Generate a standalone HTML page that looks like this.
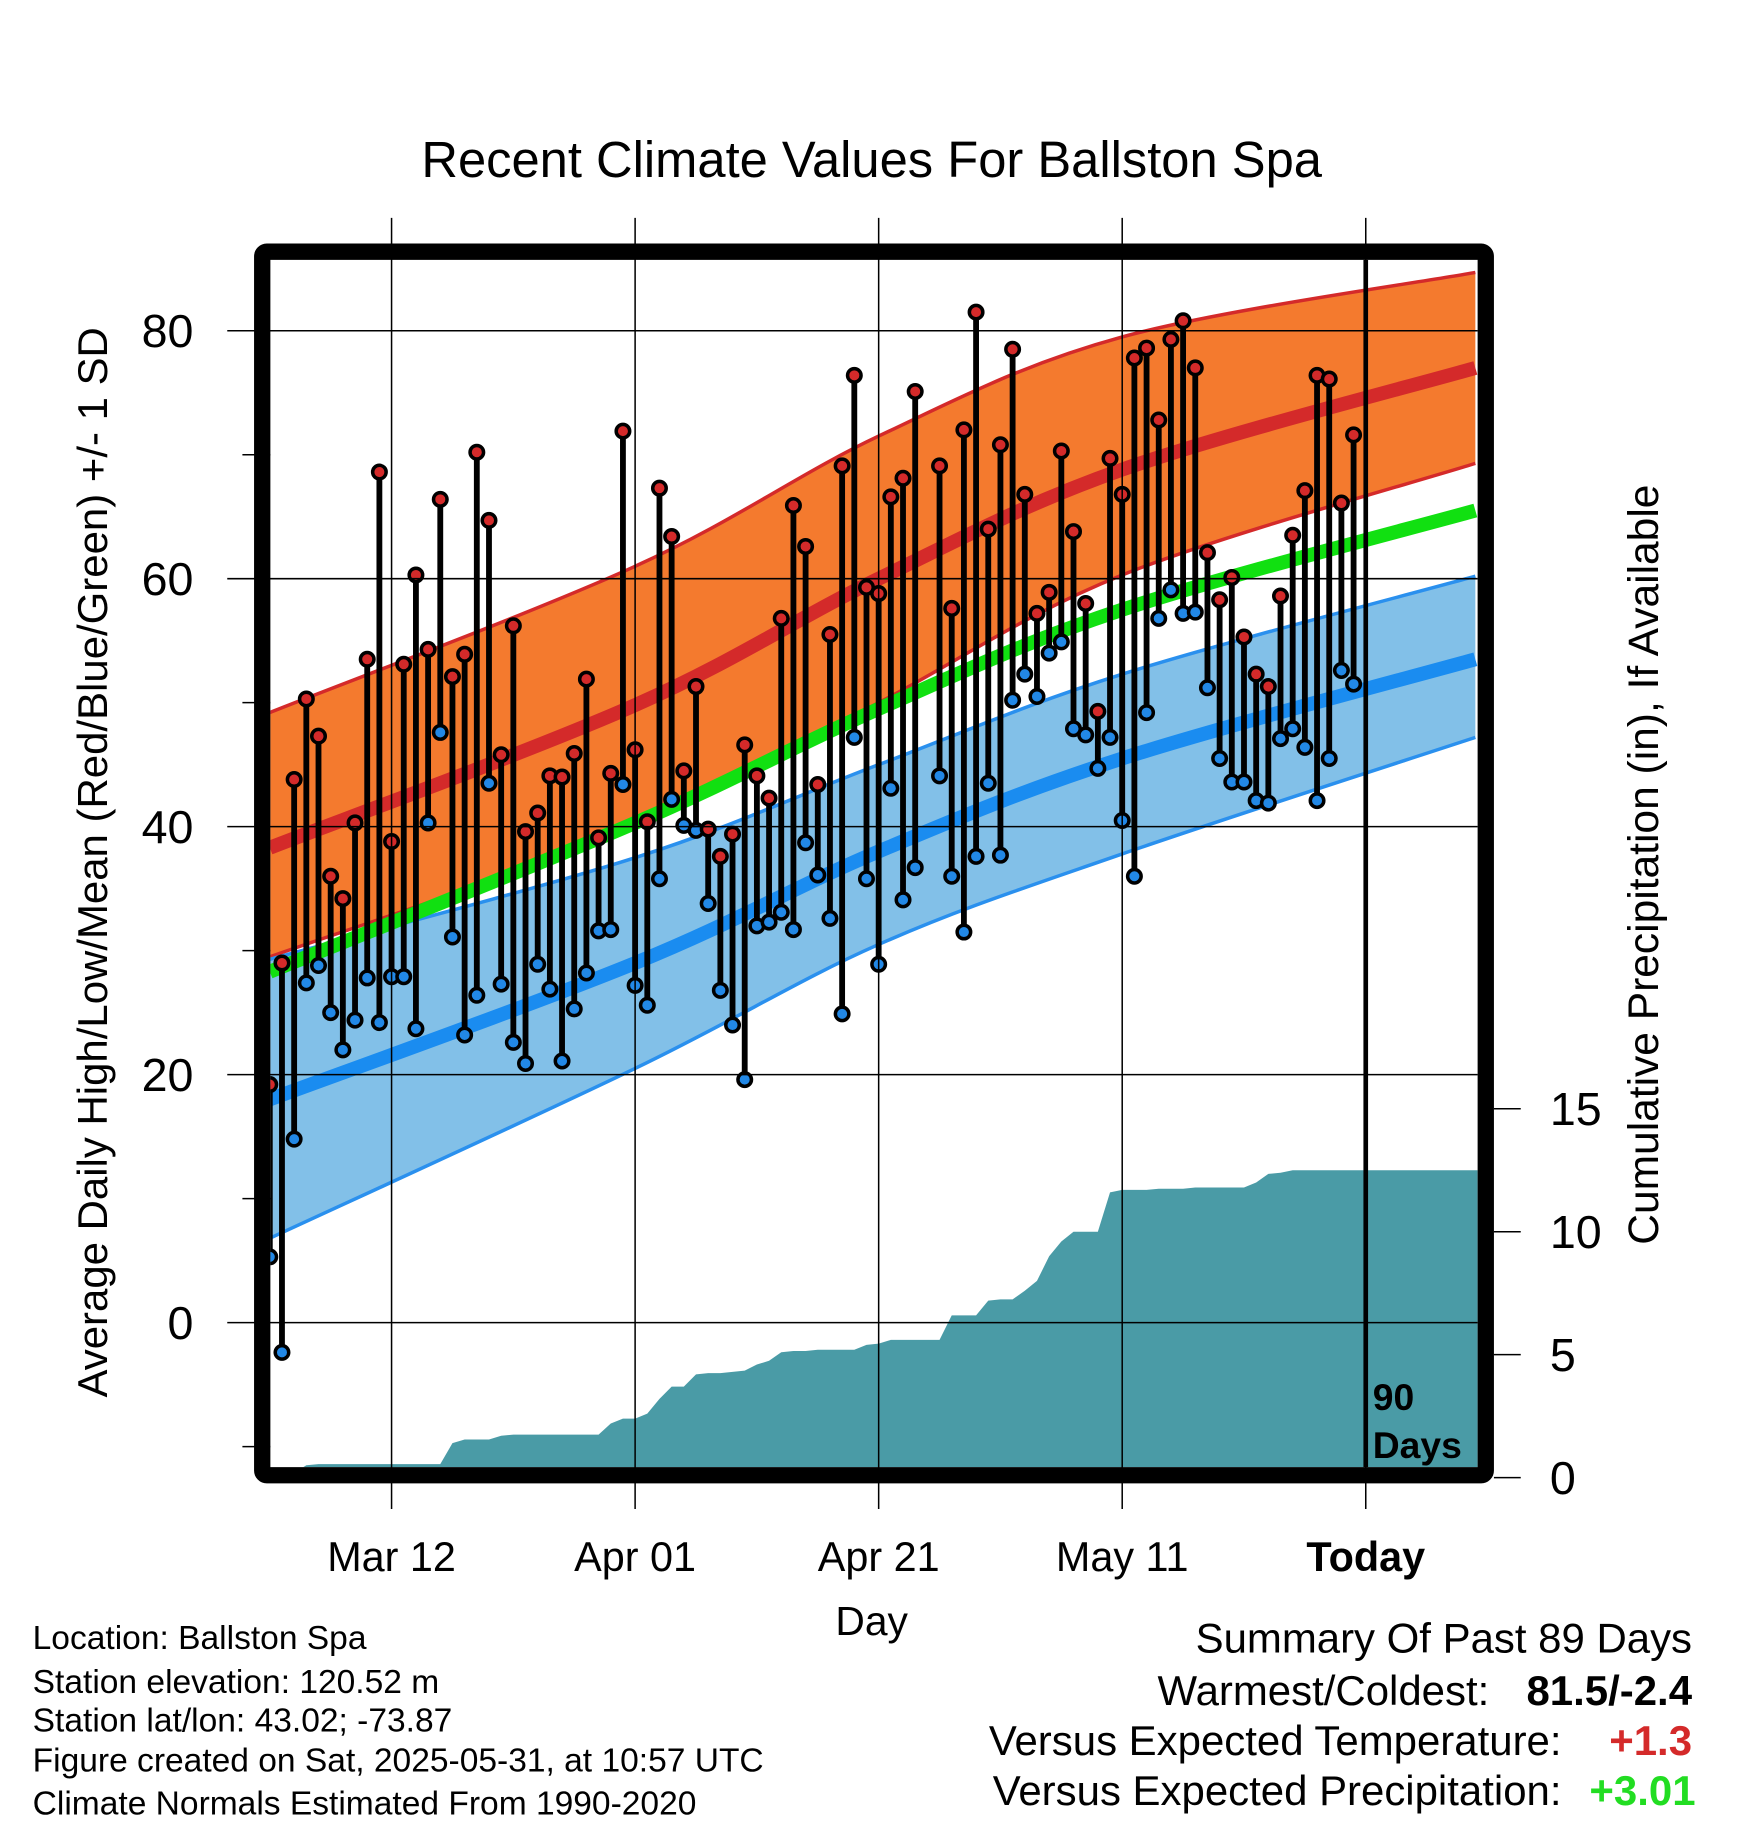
<!DOCTYPE html>
<html><head><meta charset="utf-8">
<style>
html,body{margin:0;padding:0;background:#fff;}
svg{display:block;font-family:"Liberation Sans",Arial,sans-serif;}
</style></head>
<body>
<svg id="chart" width="1748" height="1828" viewBox="0 0 1500 1568.7" xmlns="http://www.w3.org/2000/svg">
<rect width="1500" height="1569" fill="#fff"/>
<g id="plot"></g>
<text x="748" y="152" font-size="43.5" text-anchor="middle">Recent Climate Values For Ballston Spa</text>
<text transform="translate(92,740) rotate(-90)" font-size="36" text-anchor="middle">Average Daily High/Low/Mean (Red/Blue/Green) +/- 1 SD</text>
<text transform="translate(1423,742) rotate(-90)" font-size="36.5" text-anchor="middle">Cumulative Precipitation (in), If Available</text>
<text x="748" y="1403" font-size="35" text-anchor="middle">Day</text>
<g font-size="28.8">
<text x="28" y="1415">Location: Ballston Spa</text>
<text x="28" y="1453">Station elevation: 120.52 m</text>
<text x="28" y="1486">Station lat/lon: 43.02; -73.87</text>
<text x="28" y="1520">Figure created on Sat, 2025-05-31, at 10:57 UTC</text>
<text x="28" y="1557">Climate Normals Estimated From 1990-2020</text>
</g>
<g font-size="36">
<text x="1452" y="1418" text-anchor="end">Summary Of Past 89 Days</text>
<text x="1278" y="1463" text-anchor="end">Warmest/Coldest:</text>
<text x="1452" y="1463" text-anchor="end" font-weight="bold">81.5/-2.4</text>
<text x="1340" y="1506" text-anchor="end">Versus Expected Temperature:</text>
<text x="1452" y="1506" text-anchor="end" font-weight="bold" fill="#d42a2a">+1.3</text>
<text x="1340" y="1549" text-anchor="end">Versus Expected Precipitation:</text>
<text x="1455" y="1549" text-anchor="end" font-weight="bold" fill="#22dd22">+3.01</text>
</g>
</svg>
<script>
const highs=[19.2,29,43.8,50.3,47.3,36,34.2,40.3,53.5,68.6,38.8,53.1,60.3,54.3,66.4,52.1,53.9,70.2,64.7,45.8,56.2,39.6,41.1,44.1,44,45.9,51.9,39.1,44.3,71.9,46.2,40.4,67.3,63.4,44.5,51.3,39.8,37.6,39.4,46.6,44.1,42.3,56.8,65.9,62.6,43.4,55.5,69.1,76.4,59.3,58.8,66.6,68.1,75.1,null,69.1,57.6,72,81.5,64,70.8,78.5,66.8,57.2,58.9,70.3,63.8,58,49.3,69.7,66.8,77.8,78.6,72.8,79.3,80.8,77,62.1,58.3,60.1,55.3,52.3,51.3,58.6,63.5,67.1,76.4,76.1,66.1,71.6];
const lows=[5.3,-2.4,14.8,27.4,28.8,25,22,24.4,27.8,24.2,27.9,27.9,23.7,40.3,47.6,31.1,23.2,26.4,43.5,27.3,22.6,20.9,28.9,26.9,21.1,25.3,28.2,31.6,31.7,43.4,27.2,25.6,35.8,42.2,40.1,39.7,33.8,26.8,24,19.6,32,32.3,33.1,31.7,38.7,36.1,32.6,24.9,47.2,35.8,28.9,43.1,34.1,36.7,null,44.1,36,31.5,37.6,43.5,37.7,50.2,52.3,50.5,54,54.9,47.9,47.4,44.7,47.2,40.5,36,49.2,56.8,59.1,57.2,57.3,51.2,45.5,43.6,43.6,42.1,41.9,47.1,47.9,46.4,42.1,45.5,52.6,51.5];
const precip=[0.2,0.2,0.2,0.5,0.55,0.55,0.55,0.55,0.55,0.55,0.55,0.55,0.55,0.55,0.55,1.4,1.55,1.55,1.55,1.7,1.75,1.75,1.75,1.75,1.75,1.75,1.75,1.75,2.2,2.4,2.4,2.6,3.2,3.7,3.7,4.2,4.25,4.25,4.3,4.35,4.6,4.75,5.1,5.15,5.15,5.2,5.2,5.2,5.2,5.4,5.45,5.6,5.6,5.6,5.6,5.6,6.6,6.6,6.6,7.2,7.25,7.25,7.6,8.0,9.0,9.6,10.0,10.0,10.0,11.6,11.7,11.7,11.7,11.75,11.75,11.75,11.8,11.8,11.8,11.8,11.8,12.0,12.35,12.4,12.5,12.5,12.5,12.5,12.5,12.5];
const normDays=[-90,-60,-40,-20,9];
const hiUpper=[49.2,61,71.5,79.5,84.7];
const hiMean=[38.3,49.8,60,68.8,77];
const hiLower=[29.5,40,50,60.3,69.3];
const avgMean=[28.3,40.3,49.5,57.5,65.5];
const loUpper=[29.3,37.5,45,52.3,60.2];
const loMean=[18,29,38,45.5,53.5];
const loLower=[6.8,20.5,30.5,37.8,47.2];
const yTicks=[80,60,40,20,0];
const yMinor=[70,50,30,10,-10];
const pTicks=[15,10,5,0];
const xTickDays=[-80,-60,-40,-20,0];
const xTickLabels=["Mar 12","Apr 01","Apr 21","May 11","Today"];

const L=232,R=1268,T=223,B=1259;
const X=d=>1172+d*10.45;
const Y=v=>1135-v*10.64;
const P=v=>1268-v*21.1;
const NS="http://www.w3.org/2000/svg";
const g=document.getElementById('plot');
function mk(tag,attrs,parent){const e=document.createElementNS(NS,tag);for(const k in attrs)e.setAttribute(k,attrs[k]);(parent||g).appendChild(e);return e;}
const dayOf=i=>i-90;

const defs=mk('defs',{});
const cp=mk('clipPath',{id:'clip'},defs);mk('rect',{x:L,y:T,width:R-L,height:B-T},cp);
const inner=mk('g',{'clip-path':'url(#clip)'});

function segs(pts){
  let s='';
  for(let i=0;i<pts.length-1;i++){
    const p0=pts[Math.max(0,i-1)],p1=pts[i],p2=pts[i+1],p3=pts[Math.min(pts.length-1,i+2)];
    const c1=[p1[0]+(p2[0]-p0[0])/6,p1[1]+(p2[1]-p0[1])/6];
    const c2=[p2[0]-(p3[0]-p1[0])/6,p2[1]-(p3[1]-p1[1])/6];
    s+=` C${c1[0]},${c1[1]} ${c2[0]},${c2[1]} ${p2[0]},${p2[1]}`;
  }
  return s;
}
function curve(vals){
  const pts=normDays.map((d,i)=>[X(d),Y(vals[i])]);
  return 'M'+pts[0][0]+','+pts[0][1]+segs(pts);
}
function band(up,lo){
  const pts=normDays.map((d,i)=>[X(d),Y(lo[i])]).reverse();
  return curve(up)+' L'+pts[0][0]+','+pts[0][1]+segs(pts)+'Z';
}
let e;
e=mk('path',{d:band(hiUpper,hiLower),fill:'#f47a2e'},inner);

e=mk('path',{d:band(loUpper,loLower),fill:'#82c0e8'},inner);

[[hiUpper,'#d42a2a',3],[hiLower,'#d42a2a',3],[loUpper,'#2a90ee',3],[loLower,'#2a90ee',3],[hiMean,'#d42a2a',12],[avgMean,'#11e011',12],[loMean,'#1a8cf0',12]].forEach((s,k)=>{
  const el=mk('path',{d:curve(s[0]),fill:'none',stroke:s[1],'stroke-width':s[2]},inner);
  
  
});
let pd=`M${X(dayOf(0))},${B+5}`;
precip.forEach((v,i)=>{pd+=` L${X(dayOf(i))},${P(v)}`;});
pd+=` L${R},${P(precip[precip.length-1])} L${R},${B+5}Z`;
e=mk('path',{d:pd,fill:'#4a9ba6'},inner);


yTicks.forEach(v=>{const l=mk('line',{x1:195,x2:R,y1:Y(v),y2:Y(v),stroke:'#000','stroke-width':1.3});

const t=mk('text',{x:166,y:Y(v)+14,'font-size':40,'text-anchor':'end'});t.textContent=v;
});
yMinor.forEach(v=>{const l=mk('line',{x1:208,x2:L,y1:Y(v),y2:Y(v),stroke:'#000','stroke-width':1.3});
});
xTickDays.forEach((d,i)=>{const l=mk('line',{x1:X(d),x2:X(d),y1:187,y2:1295,stroke:'#000','stroke-width':1.3});

const t=mk('text',{x:X(d),y:1348,'font-size':35.5,'text-anchor':'middle'});t.textContent=xTickLabels[i];
if(i===4)t.setAttribute('font-weight','bold');
});
pTicks.forEach(v=>{const l=mk('line',{x1:1282,x2:1305,y1:P(v),y2:P(v),stroke:'#000','stroke-width':1.3});

const t=mk('text',{x:1330,y:P(v)+14,'font-size':40});t.textContent=v;
});

e=mk('line',{x1:X(0),x2:X(0),y1:T,y2:B,stroke:'#000','stroke-width':4});

e=mk('text',{x:1178,y:1210,'font-size':32,'font-weight':'bold'});e.textContent='90';

e=mk('text',{x:1178,y:1251,'font-size':32,'font-weight':'bold'});e.textContent='Days';


highs.forEach((h,i)=>{
  if(h===null||lows[i]===null)return;
  const x=X(dayOf(i));
  const s=mk('line',{x1:x,x2:x,y1:Y(h),y2:Y(lows[i]),stroke:'#000','stroke-width':5},inner);
  
});
highs.forEach((h,i)=>{
  if(h===null)return;
  const x=X(dayOf(i));
  const a=mk('circle',{cx:x,cy:Y(h),r:5.8,fill:'#d42a2a',stroke:'#000','stroke-width':3},inner);
  
  const b=mk('circle',{cx:x,cy:Y(lows[i]),r:5.8,fill:'#2288e6',stroke:'#000','stroke-width':3},inner);
  
});

e=mk('rect',{x:L-7,y:T-7,width:R-L+14,height:B-T+14,fill:'none',stroke:'#000','stroke-width':14,rx:4});

</script>
</body></html>
